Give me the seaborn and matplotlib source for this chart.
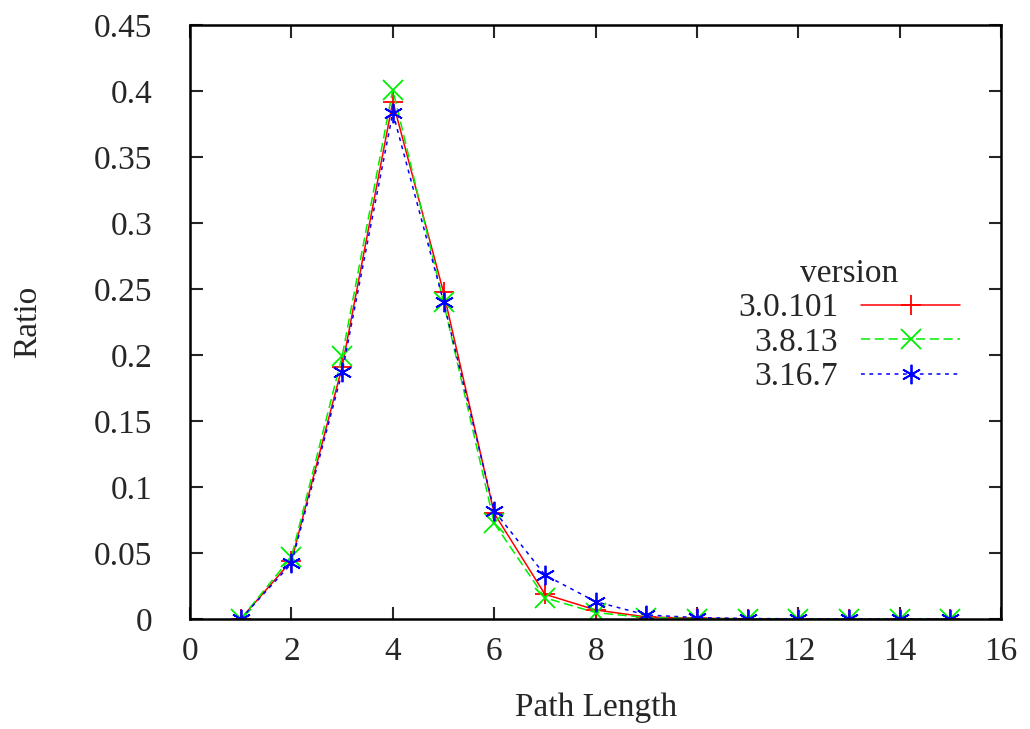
import matplotlib
matplotlib.use("Agg")
import matplotlib.pyplot as plt
from matplotlib.ticker import FuncFormatter, MultipleLocator
import seaborn as sns
import pandas as pd

path_length = list(range(1, 16))
versions = ["3.0.101", "3.8.13", "3.16.7"]
ratio_3_0_101 = [0.0, 0.044, 0.191, 0.392, 0.2475, 0.080, 0.0187, 0.0068, 0.0015, 0.0005, 0.0001, 0.0, 0.0, 0.0, 0.0]
ratio_3_8_13 = [0.0, 0.047, 0.199, 0.401, 0.240, 0.0725, 0.016, 0.0048, 0.001, 0.0003, 0.0001, 0.0, 0.0, 0.0, 0.0]
ratio_3_16_7 = [0.0, 0.042, 0.187, 0.3836, 0.2404, 0.082, 0.0333, 0.0131, 0.003, 0.001, 0.0003, 0.0001, 0.0, 0.0, 0.0]

sns.set_style("ticks")
plt.rcParams['font.family'] = ['Liberation Serif', 'DejaVu Serif']

fig = plt.figure(figsize=(10.3, 7.29), dpi=100)
ax = fig.add_axes([0.1845, 0.151, 0.972 - 0.1845, 0.9657 - 0.151])

series = [ratio_3_0_101, ratio_3_8_13, ratio_3_16_7]
colors = ["#ff0000", "#00ee00", "#0000ff"]
markers = ["+", "x", (6, 2, 0)]
dashes = [None, (6, 3), (2.5, 3)]
for name, vals, c, m, d in zip(versions, series, colors, markers, dashes):
    df = pd.DataFrame({"Path Length": path_length, "Ratio": vals})
    sns.lineplot(data=df, x="Path Length", y="Ratio", ax=ax, color=c, marker=m,
                 markersize=14, markeredgewidth=1.3, markeredgecolor=c, markerfacecolor=c,
                 linewidth=1.1, label=name)
    if d is not None:
        ax.lines[-1].set_dashes(d)

ax.set_xlim(0, 16)
ax.set_ylim(0, 0.45)
ax.xaxis.set_major_locator(MultipleLocator(2))
ax.yaxis.set_major_locator(MultipleLocator(0.05))
ax.yaxis.set_major_formatter(FuncFormatter(lambda v, p: ("%.2f" % v).rstrip("0").rstrip(".") if abs(v) > 1e-9 else "0"))
ax.tick_params(direction="in", length=9, width=1.5, top=True, right=True, labelsize=24)
ax.tick_params(axis="y", pad=27)
ax.tick_params(axis="x", pad=13)
for s in ax.spines.values():
    s.set_linewidth(1.8)
    s.set_color("black")
ax.set_xlabel("Path Length", fontsize=24, labelpad=18)
ax.set_ylabel("Ratio", fontsize=24, labelpad=37)

leg = ax.legend(title="version", loc="upper left", bbox_to_anchor=(0.655, 0.635),
                frameon=False, markerfirst=False, fontsize=24, title_fontsize=24,
                handlelength=2.95, labelspacing=0.12, borderpad=0, handletextpad=0.7)
for t in leg.get_texts():
    t.set_ha("right")
leg._legend_box.align = "center"

fig.savefig("out.png", dpi=100)
